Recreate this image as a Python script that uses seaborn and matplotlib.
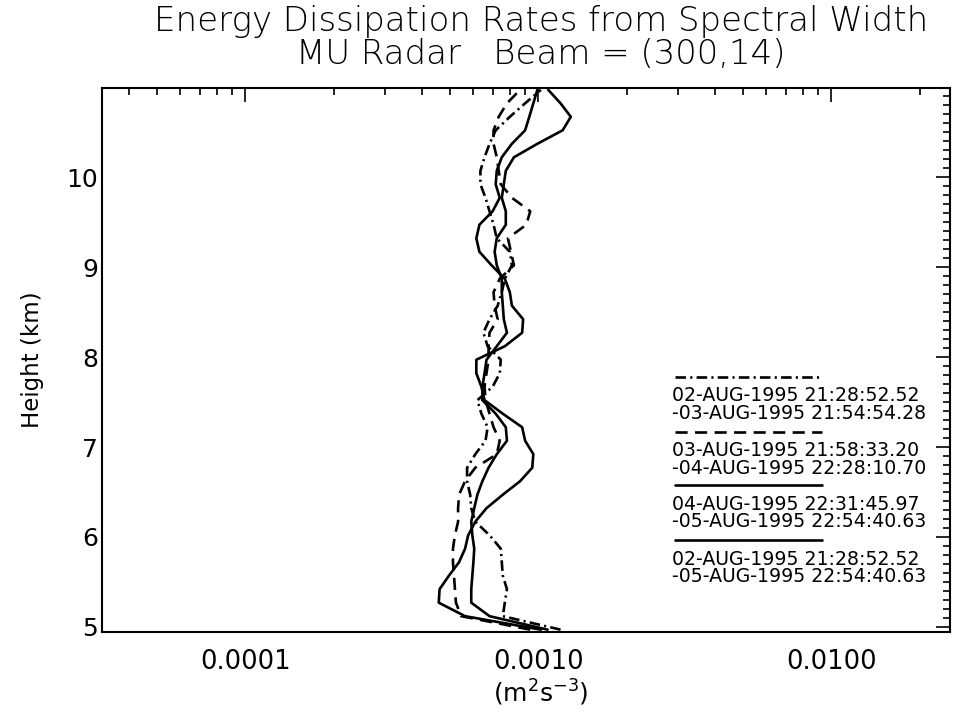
import numpy as np
import pandas as pd
import matplotlib
matplotlib.use("Agg")
import matplotlib.pyplot as plt
import seaborn as sns
from matplotlib.ticker import LogLocator, FuncFormatter, MultipleLocator, NullFormatter, FixedLocator
from matplotlib.lines import Line2D

# ---------------- data ----------------
heights = [4.97, 5.12, 5.27, 5.42, 5.57, 5.72, 5.87, 6.02, 6.17, 6.32, 6.47,
           6.62, 6.77, 6.92, 7.07, 7.22, 7.37, 7.52, 7.67, 7.82, 7.97, 8.12,
           8.27, 8.42, 8.57, 8.72, 8.87, 9.02, 9.17, 9.32, 9.47, 9.62, 9.77,
           9.92, 10.07, 10.22, 10.37, 10.52, 10.67, 10.82, 10.97]

# 02-AUG -> 03-AUG (dash-dot)
eps_0203 = [1.19e-3, 7.56e-4, 7.68e-4, 7.81e-4, 7.56e-4, 7.50e-4, 7.44e-4, 6.81e-4,
            6.09e-4, 5.90e-4, 5.85e-4, 5.71e-4, 5.71e-4, 6.09e-4, 6.60e-4, 6.71e-4,
            6.39e-4, 6.19e-4, 6.98e-4, 7.38e-4, 7.44e-4, 6.71e-4, 6.49e-4, 6.81e-4,
            7.26e-4, 7.50e-4, 7.68e-4, 8.12e-4, 7.99e-4, 7.21e-4, 7.03e-4, 6.81e-4,
            6.60e-4, 6.34e-4, 6.34e-4, 6.55e-4, 6.81e-4, 7.15e-4, 7.99e-4, 9.01e-4,
            1.02e-3]

# 03-AUG -> 04-AUG (dashed)
eps_0304 = [9.38e-4, 5.45e-4, 5.23e-4, 5.19e-4, 5.15e-4, 5.11e-4, 5.11e-4, 5.19e-4,
            5.32e-4, 5.32e-4, 5.36e-4, 5.62e-4, 6.09e-4, 7.21e-4, 7.38e-4, 7.03e-4,
            6.81e-4, 6.60e-4, 6.55e-4, 6.65e-4, 6.76e-4, 6.76e-4, 6.81e-4, 7.26e-4,
            7.09e-4, 7.03e-4, 7.38e-4, 8.25e-4, 8.06e-4, 7.87e-4, 9.09e-4, 9.38e-4,
            8.12e-4, 7.44e-4, 7.32e-4, 7.21e-4, 7.03e-4, 7.03e-4, 7.32e-4, 7.81e-4,
            8.66e-4]

# 04-AUG -> 05-AUG (solid)
eps_0405 = [1.02e-3, 5.62e-4, 4.57e-4, 4.60e-4, 4.95e-4, 5.36e-4, 5.62e-4, 5.76e-4,
            6.09e-4, 6.65e-4, 7.56e-4, 8.66e-4, 9.53e-4, 9.61e-4, 9.01e-4, 8.80e-4,
            7.56e-4, 6.55e-4, 6.39e-4, 6.14e-4, 6.14e-4, 7.68e-4, 8.80e-4, 8.87e-4,
            8.12e-4, 7.99e-4, 7.68e-4, 6.92e-4, 6.29e-4, 6.14e-4, 6.29e-4, 6.98e-4,
            7.38e-4, 7.15e-4, 7.21e-4, 7.50e-4, 8.12e-4, 9.01e-4, 9.31e-4, 9.61e-4,
            9.92e-4]

# 02-AUG -> 05-AUG (solid, whole period)
eps_0205 = [1.075e-3, 6.81e-4, 5.90e-4, 5.90e-4, 5.95e-4, 6.00e-4, 6.04e-4, 5.95e-4,
            5.90e-4, 6.04e-4, 6.19e-4, 6.44e-4, 6.76e-4, 7.21e-4, 7.81e-4, 7.74e-4,
            7.15e-4, 6.44e-4, 6.44e-4, 6.55e-4, 6.65e-4, 7.21e-4, 7.81e-4, 7.62e-4,
            7.56e-4, 7.50e-4, 7.50e-4, 7.21e-4, 7.09e-4, 7.21e-4, 7.74e-4, 7.74e-4,
            7.50e-4, 7.62e-4, 7.74e-4, 8.25e-4, 9.92e-4, 1.21e-3, 1.29e-3, 1.19e-3,
            1.08e-3]

periods = ["02-AUG-1995 21:28:52.52\n-03-AUG-1995 21:54:54.28",
           "03-AUG-1995 21:58:33.20\n-04-AUG-1995 22:28:10.70",
           "04-AUG-1995 22:31:45.97\n-05-AUG-1995 22:54:40.63",
           "02-AUG-1995 21:28:52.52\n-05-AUG-1995 22:54:40.63"]

x_tick_values = [1e-4, 1e-3, 1e-2]
y_tick_values = [5, 6, 7, 8, 9, 10]

title_text = ("Energy Dissipation Rates from Spectral Width\n"
              "MU Radar   Beam = (300,14)")

# ---------------- build table ----------------
frames = []
for name, vals in zip(periods, [eps_0203, eps_0304, eps_0405, eps_0205]):
    frames.append(pd.DataFrame({"height": heights, "eps": vals, "period": name}))
df = pd.concat(frames, ignore_index=True)

# ---------------- style ----------------
sns.set_style("white")
plt.rcParams["font.family"] = ["DejaVu Sans"]
plt.rcParams["axes.linewidth"] = 1.5
plt.rcParams["text.color"] = "black"
plt.rcParams["axes.labelcolor"] = "black"
plt.rcParams["xtick.color"] = "black"
plt.rcParams["ytick.color"] = "black"

fig = plt.figure(figsize=(9.55, 7.14), dpi=100)
ax = fig.add_axes([102 / 955, 1 - 632 / 714, (950 - 102) / 955, (632 - 88) / 714])

lw = 1.9
dash_styles = {
    periods[0]: (4.0, 1.6, 0.8, 1.6),
    periods[1]: (4.6, 2.8),
    periods[2]: "",
    periods[3]: "",
}

sns.lineplot(data=df, x="eps", y="height", hue="period", style="period",
             palette=["black"] * 4, dashes=dash_styles, estimator=None,
             orient="y", sort=True, legend=False, linewidth=lw, ax=ax)

ax.set_xscale("log")
ax.set_xlim(3.24e-5, 0.0254)
ax.set_ylim(4.944, 10.99)

ax.xaxis.set_major_locator(FixedLocator(x_tick_values))
ax.xaxis.set_major_formatter(FuncFormatter(lambda v, p: f"{v:.4f}"))
ax.xaxis.set_minor_locator(LogLocator(base=10, subs=np.arange(2, 10)))
ax.xaxis.set_minor_formatter(NullFormatter())
ax.yaxis.set_major_locator(FixedLocator(y_tick_values))
ax.yaxis.set_minor_locator(MultipleLocator(0.1))

ax.tick_params(which="both", direction="in", top=True, right=True,
               colors="black", labelcolor="black", width=1.2)
ax.tick_params(which="major", length=10)
ax.tick_params(which="minor", length=5)
ax.tick_params(axis="x", which="major", labelsize=18.5, pad=12)
ax.tick_params(axis="y", which="major", labelsize=18, pad=3)
for sp in ax.spines.values():
    sp.set_color("black")
    sp.set_linewidth(1.5)

ax.set_xlabel("")
ax.set_ylabel("")
fig.text(541 / 955, 1 - 693 / 714, r"(m$^{2}$s$^{-3}$)", ha="center", va="center",
         fontsize=18, color="black")
fig.text(32 / 955, 1 - 360 / 714, "Height (km)", rotation=90, ha="center",
         va="center", fontsize=16.5, color="black")

fig.text(541 / 955, 1 - 38 / 714, title_text, ha="center", va="center",
         multialignment="center", fontsize=24.5, color="black",
         fontweight="light", linespacing=0.98)

# ---------------- custom legend ----------------
line_y = [0.469, 0.368, 0.270, 0.169]
for i, name in enumerate(periods):
    ls = dash_styles[name]
    l = Line2D([0.676, 0.849], [line_y[i], line_y[i]], transform=ax.transAxes,
               color="black", linewidth=lw)
    if ls:
        l.set_dashes(ls)
    ax.add_line(l)
    ax.text(0.672, line_y[i] - 0.051, name, transform=ax.transAxes,
            ha="left", va="center", fontsize=13.6, linespacing=0.9,
            color="black")

fig.savefig("out.png", dpi=100, facecolor="white")
